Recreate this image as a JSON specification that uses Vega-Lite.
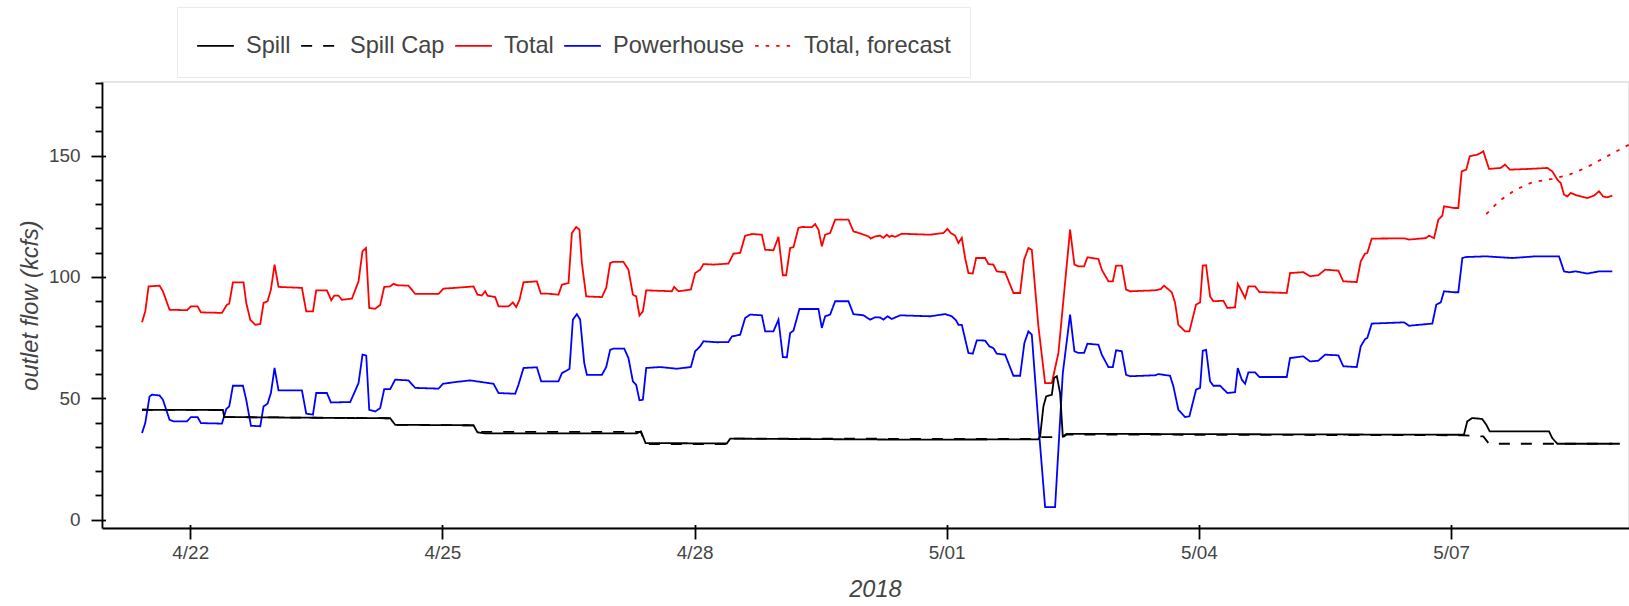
{
"$schema":"https://vega.github.io/schema/vega-lite/v6.json",
"width":1527,"height":446,
"autosize":{"type":"none"},
"padding":{"left":102,"top":82,"right":0,"bottom":78},
"background":"white",
"config":{
 "view":{"stroke":"#e5e5e5","strokeWidth":1.8},
 "font":"Liberation Sans",
 "axis":{"labelFont":"Liberation Sans","titleFont":"Liberation Sans","labelColor":"#444444","titleColor":"#444444","domainColor":"black","domainWidth":1.8,"tickColor":"black","tickWidth":1.8,"grid":false}
},
"datasets":{
"minor":[{"v":0,"time":"2018-04-22T00:00"}],
"flows":[
{"series":"Total","time":"2018-04-21T10:13","flow":81.3},
{"series":"Total","time":"2018-04-21T11:09","flow":85.8},
{"series":"Total","time":"2018-04-21T12:06","flow":96.1},
{"series":"Total","time":"2018-04-21T15:14","flow":96.4},
{"series":"Total","time":"2018-04-21T16:12","flow":94.1},
{"series":"Total","time":"2018-04-21T18:05","flow":86.5},
{"series":"Total","time":"2018-04-21T23:04","flow":86.3},
{"series":"Total","time":"2018-04-22T00:12","flow":87.9},
{"series":"Total","time":"2018-04-22T02:05","flow":87.9},
{"series":"Total","time":"2018-04-22T03:03","flow":85.4},
{"series":"Total","time":"2018-04-22T09:03","flow":85.2},
{"series":"Total","time":"2018-04-22T10:29","flow":88.6},
{"series":"Total","time":"2018-04-22T11:08","flow":89.0},
{"series":"Total","time":"2018-04-22T12:11","flow":97.8},
{"series":"Total","time":"2018-04-22T15:13","flow":97.8},
{"series":"Total","time":"2018-04-22T15:59","flow":89.3},
{"series":"Total","time":"2018-04-22T17:08","flow":82.4},
{"series":"Total","time":"2018-04-22T18:33","flow":80.3},
{"series":"Total","time":"2018-04-22T19:59","flow":80.6},
{"series":"Total","time":"2018-04-22T20:56","flow":89.3},
{"series":"Total","time":"2018-04-22T22:04","flow":90.0},
{"series":"Total","time":"2018-04-22T23:02","flow":94.8},
{"series":"Total","time":"2018-04-23T00:04","flow":105.1},
{"series":"Total","time":"2018-04-23T01:12","flow":95.9},
{"series":"Total","time":"2018-04-23T07:53","flow":95.5},
{"series":"Total","time":"2018-04-23T09:07","flow":85.8},
{"series":"Total","time":"2018-04-23T11:02","flow":85.8},
{"series":"Total","time":"2018-04-23T11:58","flow":94.5},
{"series":"Total","time":"2018-04-23T15:01","flow":94.5},
{"series":"Total","time":"2018-04-23T16:15","flow":90.4},
{"series":"Total","time":"2018-04-23T17:07","flow":92.3},
{"series":"Total","time":"2018-04-23T18:20","flow":92.3},
{"series":"Total","time":"2018-04-23T19:18","flow":90.6},
{"series":"Total","time":"2018-04-23T22:10","flow":91.1},
{"series":"Total","time":"2018-04-24T00:03","flow":98.2},
{"series":"Total","time":"2018-04-24T01:11","flow":110.6},
{"series":"Total","time":"2018-04-24T02:10","flow":111.9},
{"series":"Total","time":"2018-04-24T03:06","flow":87.2},
{"series":"Total","time":"2018-04-24T04:49","flow":86.9},
{"series":"Total","time":"2018-04-24T06:14","flow":88.5},
{"series":"Total","time":"2018-04-24T07:23","flow":95.9},
{"series":"Total","time":"2018-04-24T09:05","flow":96.1},
{"series":"Total","time":"2018-04-24T10:02","flow":97.2},
{"series":"Total","time":"2018-04-24T11:01","flow":96.6},
{"series":"Total","time":"2018-04-24T14:19","flow":96.4},
{"series":"Total","time":"2018-04-24T16:14","flow":93.0},
{"series":"Total","time":"2018-04-24T22:53","flow":93.0},
{"series":"Total","time":"2018-04-25T00:19","flow":95.2},
{"series":"Total","time":"2018-04-25T03:39","flow":95.5},
{"series":"Total","time":"2018-04-25T08:53","flow":96.1},
{"series":"Total","time":"2018-04-25T10:01","flow":92.7},
{"series":"Total","time":"2018-04-25T11:16","flow":92.4},
{"series":"Total","time":"2018-04-25T12:13","flow":94.1},
{"series":"Total","time":"2018-04-25T12:52","flow":92.3},
{"series":"Total","time":"2018-04-25T15:04","flow":91.7},
{"series":"Total","time":"2018-04-25T16:01","flow":87.9},
{"series":"Total","time":"2018-04-25T18:52","flow":87.9},
{"series":"Total","time":"2018-04-25T20:07","flow":89.5},
{"series":"Total","time":"2018-04-25T21:04","flow":87.6},
{"series":"Total","time":"2018-04-25T22:01","flow":90.6},
{"series":"Total","time":"2018-04-25T23:09","flow":97.8},
{"series":"Total","time":"2018-04-26T02:58","flow":98.2},
{"series":"Total","time":"2018-04-26T04:07","flow":93.1},
{"series":"Total","time":"2018-04-26T06:17","flow":93.1},
{"series":"Total","time":"2018-04-26T09:08","flow":92.7},
{"series":"Total","time":"2018-04-26T10:07","flow":96.8},
{"series":"Total","time":"2018-04-26T12:00","flow":97.5},
{"series":"Total","time":"2018-04-26T12:58","flow":118.1},
{"series":"Total","time":"2018-04-26T14:12","flow":120.6},
{"series":"Total","time":"2018-04-26T15:08","flow":119.5},
{"series":"Total","time":"2018-04-26T15:49","flow":105.8},
{"series":"Total","time":"2018-04-26T17:03","flow":92.0},
{"series":"Total","time":"2018-04-26T21:32","flow":91.7},
{"series":"Total","time":"2018-04-26T22:46","flow":95.5},
{"series":"Total","time":"2018-04-26T23:54","flow":105.8},
{"series":"Total","time":"2018-04-27T00:51","flow":106.2},
{"series":"Total","time":"2018-04-27T03:42","flow":106.2},
{"series":"Total","time":"2018-04-27T05:07","flow":103.0},
{"series":"Total","time":"2018-04-27T06:23","flow":92.7},
{"series":"Total","time":"2018-04-27T07:19","flow":92.0},
{"series":"Total","time":"2018-04-27T08:16","flow":84.1},
{"series":"Total","time":"2018-04-27T09:14","flow":85.8},
{"series":"Total","time":"2018-04-27T10:11","flow":94.5},
{"series":"Total","time":"2018-04-27T17:31","flow":94.1},
{"series":"Total","time":"2018-04-27T18:10","flow":95.9},
{"series":"Total","time":"2018-04-27T19:24","flow":94.1},
{"series":"Total","time":"2018-04-27T22:56","flow":94.8},
{"series":"Total","time":"2018-04-28T00:10","flow":101.6},
{"series":"Total","time":"2018-04-28T01:36","flow":103.0},
{"series":"Total","time":"2018-04-28T02:32","flow":105.3},
{"series":"Total","time":"2018-04-28T05:23","flow":105.1},
{"series":"Total","time":"2018-04-28T09:40","flow":105.5},
{"series":"Total","time":"2018-04-28T11:06","flow":109.6},
{"series":"Total","time":"2018-04-28T13:01","flow":109.9},
{"series":"Total","time":"2018-04-28T14:26","flow":117.0},
{"series":"Total","time":"2018-04-28T16:21","flow":117.7},
{"series":"Total","time":"2018-04-28T19:12","flow":117.4},
{"series":"Total","time":"2018-04-28T20:09","flow":111.2},
{"series":"Total","time":"2018-04-28T22:31","flow":111.0},
{"series":"Total","time":"2018-04-28T23:57","flow":116.5},
{"series":"Total","time":"2018-04-29T01:12","flow":100.7},
{"series":"Total","time":"2018-04-29T02:09","flow":100.7},
{"series":"Total","time":"2018-04-29T03:17","flow":111.9},
{"series":"Total","time":"2018-04-29T04:14","flow":112.3},
{"series":"Total","time":"2018-04-29T05:39","flow":120.2},
{"series":"Total","time":"2018-04-29T06:37","flow":120.6},
{"series":"Total","time":"2018-04-29T09:29","flow":120.5},
{"series":"Total","time":"2018-04-29T10:25","flow":121.8},
{"series":"Total","time":"2018-04-29T11:22","flow":119.5},
{"series":"Total","time":"2018-04-29T12:20","flow":112.6},
{"series":"Total","time":"2018-04-29T13:17","flow":117.4},
{"series":"Total","time":"2018-04-29T14:42","flow":118.1},
{"series":"Total","time":"2018-04-29T16:08","flow":123.6},
{"series":"Total","time":"2018-04-29T19:56","flow":123.6},
{"series":"Total","time":"2018-04-29T21:21","flow":118.8},
{"series":"Total","time":"2018-04-29T23:45","flow":117.7},
{"series":"Total","time":"2018-04-30T01:38","flow":116.7},
{"series":"Total","time":"2018-04-30T02:19","flow":115.8},
{"series":"Total","time":"2018-04-30T03:33","flow":116.7},
{"series":"Total","time":"2018-04-30T04:59","flow":117.0},
{"series":"Total","time":"2018-04-30T05:55","flow":116.1},
{"series":"Total","time":"2018-04-30T06:53","flow":117.4},
{"series":"Total","time":"2018-04-30T07:38","flow":116.5},
{"series":"Total","time":"2018-04-30T08:19","flow":117.0},
{"series":"Total","time":"2018-04-30T09:16","flow":116.5},
{"series":"Total","time":"2018-04-30T11:10","flow":117.8},
{"series":"Total","time":"2018-04-30T19:15","flow":117.4},
{"series":"Total","time":"2018-04-30T23:03","flow":118.1},
{"series":"Total","time":"2018-05-01T00:11","flow":119.8},
{"series":"Total","time":"2018-05-01T01:10","flow":118.1},
{"series":"Total","time":"2018-05-01T02:23","flow":117.0},
{"series":"Total","time":"2018-05-01T03:20","flow":114.0},
{"series":"Total","time":"2018-05-01T04:18","flow":116.1},
{"series":"Total","time":"2018-05-01T05:15","flow":107.8},
{"series":"Total","time":"2018-05-01T06:11","flow":101.6},
{"series":"Total","time":"2018-05-01T07:26","flow":101.4},
{"series":"Total","time":"2018-05-01T08:23","flow":107.8},
{"series":"Total","time":"2018-05-01T10:57","flow":107.8},
{"series":"Total","time":"2018-05-01T11:54","flow":105.3},
{"series":"Total","time":"2018-05-01T13:19","flow":105.1},
{"series":"Total","time":"2018-05-01T14:17","flow":102.3},
{"series":"Total","time":"2018-05-01T16:40","flow":101.9},
{"series":"Total","time":"2018-05-01T19:02","flow":93.4},
{"series":"Total","time":"2018-05-01T20:57","flow":93.4},
{"series":"Total","time":"2018-05-01T22:05","flow":107.1},
{"series":"Total","time":"2018-05-01T23:19","flow":111.9},
{"series":"Total","time":"2018-05-02T00:17","flow":111.2},
{"series":"Total","time":"2018-05-02T02:10","flow":79.7},
{"series":"Total","time":"2018-05-02T04:05","flow":56.3},
{"series":"Total","time":"2018-05-02T06:00","flow":56.3},
{"series":"Total","time":"2018-05-02T07:53","flow":68.7},
{"series":"Total","time":"2018-05-02T11:13","flow":119.5},
{"series":"Total","time":"2018-05-02T12:27","flow":105.1},
{"series":"Total","time":"2018-05-02T13:35","flow":104.4},
{"series":"Total","time":"2018-05-02T15:13","flow":104.4},
{"series":"Total","time":"2018-05-02T16:10","flow":108.1},
{"series":"Total","time":"2018-05-02T19:18","flow":107.4},
{"series":"Total","time":"2018-05-02T20:16","flow":103.0},
{"series":"Total","time":"2018-05-02T22:09","flow":98.2},
{"series":"Total","time":"2018-05-02T23:25","flow":98.2},
{"series":"Total","time":"2018-05-03T00:21","flow":104.7},
{"series":"Total","time":"2018-05-03T01:59","flow":104.7},
{"series":"Total","time":"2018-05-03T03:12","flow":94.8},
{"series":"Total","time":"2018-05-03T04:21","flow":94.1},
{"series":"Total","time":"2018-05-03T11:29","flow":94.5},
{"series":"Total","time":"2018-05-03T13:07","flow":95.0},
{"series":"Total","time":"2018-05-03T14:03","flow":96.4},
{"series":"Total","time":"2018-05-03T16:15","flow":93.7},
{"series":"Total","time":"2018-05-03T17:12","flow":89.3},
{"series":"Total","time":"2018-05-03T18:08","flow":80.3},
{"series":"Total","time":"2018-05-03T20:03","flow":77.6},
{"series":"Total","time":"2018-05-03T21:17","flow":77.6},
{"series":"Total","time":"2018-05-03T23:11","flow":88.6},
{"series":"Total","time":"2018-05-04T00:20","flow":89.5},
{"series":"Total","time":"2018-05-04T01:06","flow":104.7},
{"series":"Total","time":"2018-05-04T02:03","flow":104.8},
{"series":"Total","time":"2018-05-04T03:11","flow":92.0},
{"series":"Total","time":"2018-05-04T04:08","flow":90.0},
{"series":"Total","time":"2018-05-04T06:59","flow":90.2},
{"series":"Total","time":"2018-05-04T08:07","flow":87.2},
{"series":"Total","time":"2018-05-04T10:19","flow":87.5},
{"series":"Total","time":"2018-05-04T11:06","flow":97.2},
{"series":"Total","time":"2018-05-04T12:14","flow":94.1},
{"series":"Total","time":"2018-05-04T13:11","flow":91.3},
{"series":"Total","time":"2018-05-04T14:07","flow":96.1},
{"series":"Total","time":"2018-05-04T16:02","flow":96.1},
{"series":"Total","time":"2018-05-04T17:16","flow":93.8},
{"series":"Total","time":"2018-05-05T01:05","flow":93.4},
{"series":"Total","time":"2018-05-05T02:01","flow":101.6},
{"series":"Total","time":"2018-05-05T05:49","flow":102.0},
{"series":"Total","time":"2018-05-05T07:44","flow":100.3},
{"series":"Total","time":"2018-05-05T10:06","flow":100.7},
{"series":"Total","time":"2018-05-05T12:01","flow":103.0},
{"series":"Total","time":"2018-05-05T15:49","flow":102.6},
{"series":"Total","time":"2018-05-05T17:14","flow":98.2},
{"series":"Total","time":"2018-05-05T21:04","flow":97.9},
{"series":"Total","time":"2018-05-05T22:12","flow":106.4},
{"series":"Total","time":"2018-05-05T23:26","flow":109.6},
{"series":"Total","time":"2018-05-06T00:05","flow":109.9},
{"series":"Total","time":"2018-05-06T01:21","flow":115.8},
{"series":"Total","time":"2018-05-06T10:34","flow":115.9},
{"series":"Total","time":"2018-05-06T12:00","flow":115.4},
{"series":"Total","time":"2018-05-06T16:46","flow":116.0},
{"series":"Total","time":"2018-05-06T17:42","flow":117.0},
{"series":"Total","time":"2018-05-06T19:08","flow":116.0},
{"series":"Total","time":"2018-05-06T20:22","flow":123.6},
{"series":"Total","time":"2018-05-06T21:30","flow":125.3},
{"series":"Total","time":"2018-05-06T21:59","flow":129.1},
{"series":"Total","time":"2018-05-07T00:51","flow":128.4},
{"series":"Total","time":"2018-05-07T02:04","flow":128.4},
{"series":"Total","time":"2018-05-07T03:02","flow":143.5},
{"series":"Total","time":"2018-05-07T04:21","flow":144.2},
{"series":"Total","time":"2018-05-07T05:19","flow":149.7},
{"series":"Total","time":"2018-05-07T07:30","flow":150.4},
{"series":"Total","time":"2018-05-07T08:28","flow":151.1},
{"series":"Total","time":"2018-05-07T09:12","flow":151.8},
{"series":"Total","time":"2018-05-07T10:50","flow":144.5},
{"series":"Total","time":"2018-05-07T14:10","flow":144.9},
{"series":"Total","time":"2018-05-07T15:24","flow":146.3},
{"series":"Total","time":"2018-05-07T16:45","flow":144.2},
{"series":"Total","time":"2018-05-07T22:15","flow":144.5},
{"series":"Total","time":"2018-05-08T03:29","flow":144.9},
{"series":"Total","time":"2018-05-08T04:54","flow":143.5},
{"series":"Total","time":"2018-05-08T06:20","flow":140.1},
{"series":"Total","time":"2018-05-08T07:18","flow":138.7},
{"series":"Total","time":"2018-05-08T08:15","flow":133.9},
{"series":"Total","time":"2018-05-08T09:11","flow":133.2},
{"series":"Total","time":"2018-05-08T10:09","flow":134.6},
{"series":"Total","time":"2018-05-08T12:03","flow":133.5},
{"series":"Total","time":"2018-05-08T14:54","flow":132.5},
{"series":"Total","time":"2018-05-08T16:49","flow":133.5},
{"series":"Total","time":"2018-05-08T18:14","flow":135.3},
{"series":"Total","time":"2018-05-08T19:23","flow":133.2},
{"series":"Total","time":"2018-05-08T20:36","flow":132.8},
{"series":"Total","time":"2018-05-08T22:02","flow":133.5},
{"series":"Total, forecast","time":"2018-05-07T10:04","flow":125.9},
{"series":"Total, forecast","time":"2018-05-07T13:41","flow":131.2},
{"series":"Total, forecast","time":"2018-05-07T18:27","flow":136.0},
{"series":"Total, forecast","time":"2018-05-07T23:12","flow":139.0},
{"series":"Total, forecast","time":"2018-05-08T04:54","flow":140.4},
{"series":"Total, forecast","time":"2018-05-08T09:40","flow":142.1},
{"series":"Total, forecast","time":"2018-05-08T14:26","flow":144.9},
{"series":"Total, forecast","time":"2018-05-08T20:09","flow":149.4},
{"series":"Total, forecast","time":"2018-05-09T02:48","flow":154.5},
{"series":"Total, forecast","time":"2018-05-09T08:00","flow":158.0},
{"series":"Powerhouse","time":"2018-04-21T10:13","flow":35.7},
{"series":"Powerhouse","time":"2018-04-21T11:09","flow":39.8},
{"series":"Powerhouse","time":"2018-04-21T12:23","flow":50.8},
{"series":"Powerhouse","time":"2018-04-21T13:04","flow":51.5},
{"series":"Powerhouse","time":"2018-04-21T15:14","flow":51.2},
{"series":"Powerhouse","time":"2018-04-21T16:12","flow":49.4},
{"series":"Powerhouse","time":"2018-04-21T18:05","flow":41.2},
{"series":"Powerhouse","time":"2018-04-21T19:14","flow":40.5},
{"series":"Powerhouse","time":"2018-04-21T23:04","flow":40.5},
{"series":"Powerhouse","time":"2018-04-22T00:12","flow":42.3},
{"series":"Powerhouse","time":"2018-04-22T02:05","flow":42.3},
{"series":"Powerhouse","time":"2018-04-22T03:03","flow":39.8},
{"series":"Powerhouse","time":"2018-04-22T09:03","flow":39.6},
{"series":"Powerhouse","time":"2018-04-22T10:17","flow":45.6},
{"series":"Powerhouse","time":"2018-04-22T11:08","flow":46.7},
{"series":"Powerhouse","time":"2018-04-22T12:11","flow":55.2},
{"series":"Powerhouse","time":"2018-04-22T15:03","flow":55.2},
{"series":"Powerhouse","time":"2018-04-22T15:59","flow":49.4},
{"series":"Powerhouse","time":"2018-04-22T17:20","flow":38.7},
{"series":"Powerhouse","time":"2018-04-22T19:59","flow":38.5},
{"series":"Powerhouse","time":"2018-04-22T20:56","flow":46.7},
{"series":"Powerhouse","time":"2018-04-22T22:04","flow":47.8},
{"series":"Powerhouse","time":"2018-04-22T23:02","flow":52.2},
{"series":"Powerhouse","time":"2018-04-23T00:04","flow":62.5},
{"series":"Powerhouse","time":"2018-04-23T01:12","flow":53.3},
{"series":"Powerhouse","time":"2018-04-23T07:53","flow":53.3},
{"series":"Powerhouse","time":"2018-04-23T09:07","flow":43.7},
{"series":"Powerhouse","time":"2018-04-23T11:02","flow":43.3},
{"series":"Powerhouse","time":"2018-04-23T11:58","flow":52.2},
{"series":"Powerhouse","time":"2018-04-23T15:01","flow":52.2},
{"series":"Powerhouse","time":"2018-04-23T16:10","flow":48.3},
{"series":"Powerhouse","time":"2018-04-23T21:41","flow":48.5},
{"series":"Powerhouse","time":"2018-04-24T00:03","flow":56.3},
{"series":"Powerhouse","time":"2018-04-24T01:11","flow":68.0},
{"series":"Powerhouse","time":"2018-04-24T02:15","flow":67.6},
{"series":"Powerhouse","time":"2018-04-24T03:06","flow":45.3},
{"series":"Powerhouse","time":"2018-04-24T04:49","flow":44.6},
{"series":"Powerhouse","time":"2018-04-24T06:14","flow":46.0},
{"series":"Powerhouse","time":"2018-04-24T07:23","flow":53.8},
{"series":"Powerhouse","time":"2018-04-24T09:05","flow":53.8},
{"series":"Powerhouse","time":"2018-04-24T10:31","flow":57.7},
{"series":"Powerhouse","time":"2018-04-24T14:19","flow":57.4},
{"series":"Powerhouse","time":"2018-04-24T16:14","flow":54.3},
{"series":"Powerhouse","time":"2018-04-24T22:53","flow":54.0},
{"series":"Powerhouse","time":"2018-04-25T00:08","flow":56.0},
{"series":"Powerhouse","time":"2018-04-25T03:39","flow":56.7},
{"series":"Powerhouse","time":"2018-04-25T07:56","flow":57.4},
{"series":"Powerhouse","time":"2018-04-25T14:35","flow":56.0},
{"series":"Powerhouse","time":"2018-04-25T16:01","flow":52.2},
{"series":"Powerhouse","time":"2018-04-25T20:47","flow":51.9},
{"series":"Powerhouse","time":"2018-04-25T21:43","flow":55.6},
{"series":"Powerhouse","time":"2018-04-25T23:09","flow":62.5},
{"series":"Powerhouse","time":"2018-04-26T02:58","flow":62.8},
{"series":"Powerhouse","time":"2018-04-26T04:12","flow":57.0},
{"series":"Powerhouse","time":"2018-04-26T09:08","flow":57.0},
{"series":"Powerhouse","time":"2018-04-26T10:07","flow":60.4},
{"series":"Powerhouse","time":"2018-04-26T12:17","flow":62.1},
{"series":"Powerhouse","time":"2018-04-26T13:15","flow":82.4},
{"series":"Powerhouse","time":"2018-04-26T14:24","flow":84.7},
{"series":"Powerhouse","time":"2018-04-26T15:20","flow":82.4},
{"series":"Powerhouse","time":"2018-04-26T16:29","flow":64.6},
{"series":"Powerhouse","time":"2018-04-26T17:15","flow":59.7},
{"series":"Powerhouse","time":"2018-04-26T21:32","flow":59.7},
{"series":"Powerhouse","time":"2018-04-26T22:46","flow":62.9},
{"series":"Powerhouse","time":"2018-04-26T23:54","flow":70.0},
{"series":"Powerhouse","time":"2018-04-27T00:51","flow":70.5},
{"series":"Powerhouse","time":"2018-04-27T03:54","flow":70.5},
{"series":"Powerhouse","time":"2018-04-27T05:07","flow":66.6},
{"series":"Powerhouse","time":"2018-04-27T06:23","flow":57.0},
{"series":"Powerhouse","time":"2018-04-27T07:19","flow":55.6},
{"series":"Powerhouse","time":"2018-04-27T08:16","flow":49.2},
{"series":"Powerhouse","time":"2018-04-27T09:14","flow":49.4},
{"series":"Powerhouse","time":"2018-04-27T10:11","flow":62.5},
{"series":"Powerhouse","time":"2018-04-27T14:10","flow":62.9},
{"series":"Powerhouse","time":"2018-04-27T18:56","flow":62.2},
{"series":"Powerhouse","time":"2018-04-27T22:56","flow":62.9},
{"series":"Powerhouse","time":"2018-04-28T00:10","flow":69.4},
{"series":"Powerhouse","time":"2018-04-28T01:36","flow":71.4},
{"series":"Powerhouse","time":"2018-04-28T02:32","flow":73.5},
{"series":"Powerhouse","time":"2018-04-28T06:22","flow":73.1},
{"series":"Powerhouse","time":"2018-04-28T09:40","flow":73.2},
{"series":"Powerhouse","time":"2018-04-28T10:39","flow":75.5},
{"series":"Powerhouse","time":"2018-04-28T13:01","flow":76.2},
{"series":"Powerhouse","time":"2018-04-28T14:26","flow":83.1},
{"series":"Powerhouse","time":"2018-04-28T15:52","flow":84.5},
{"series":"Powerhouse","time":"2018-04-28T19:12","flow":84.2},
{"series":"Powerhouse","time":"2018-04-28T20:09","flow":77.6},
{"series":"Powerhouse","time":"2018-04-28T22:31","flow":77.6},
{"series":"Powerhouse","time":"2018-04-28T23:57","flow":82.4},
{"series":"Powerhouse","time":"2018-04-29T01:12","flow":67.0},
{"series":"Powerhouse","time":"2018-04-29T02:21","flow":66.9},
{"series":"Powerhouse","time":"2018-04-29T03:17","flow":76.9},
{"series":"Powerhouse","time":"2018-04-29T04:14","flow":77.9},
{"series":"Powerhouse","time":"2018-04-29T05:56","flow":86.8},
{"series":"Powerhouse","time":"2018-04-29T09:29","flow":86.8},
{"series":"Powerhouse","time":"2018-04-29T11:22","flow":86.8},
{"series":"Powerhouse","time":"2018-04-29T12:20","flow":79.0},
{"series":"Powerhouse","time":"2018-04-29T13:17","flow":83.8},
{"series":"Powerhouse","time":"2018-04-29T14:42","flow":84.5},
{"series":"Powerhouse","time":"2018-04-29T16:08","flow":90.0},
{"series":"Powerhouse","time":"2018-04-29T19:56","flow":90.0},
{"series":"Powerhouse","time":"2018-04-29T21:21","flow":84.7},
{"series":"Powerhouse","time":"2018-04-30T00:13","flow":84.2},
{"series":"Powerhouse","time":"2018-04-30T02:07","flow":82.4},
{"series":"Powerhouse","time":"2018-04-30T03:33","flow":83.4},
{"series":"Powerhouse","time":"2018-04-30T04:59","flow":83.3},
{"series":"Powerhouse","time":"2018-04-30T05:55","flow":82.4},
{"series":"Powerhouse","time":"2018-04-30T07:04","flow":83.8},
{"series":"Powerhouse","time":"2018-04-30T08:19","flow":82.7},
{"series":"Powerhouse","time":"2018-04-30T10:41","flow":84.2},
{"series":"Powerhouse","time":"2018-04-30T19:15","flow":83.8},
{"series":"Powerhouse","time":"2018-04-30T23:32","flow":84.7},
{"series":"Powerhouse","time":"2018-05-01T01:27","flow":83.8},
{"series":"Powerhouse","time":"2018-05-01T02:40","flow":82.1},
{"series":"Powerhouse","time":"2018-05-01T03:20","flow":80.3},
{"series":"Powerhouse","time":"2018-05-01T04:18","flow":80.3},
{"series":"Powerhouse","time":"2018-05-01T06:11","flow":68.7},
{"series":"Powerhouse","time":"2018-05-01T07:26","flow":68.4},
{"series":"Powerhouse","time":"2018-05-01T08:35","flow":73.9},
{"series":"Powerhouse","time":"2018-05-01T10:57","flow":73.8},
{"series":"Powerhouse","time":"2018-05-01T12:11","flow":71.4},
{"series":"Powerhouse","time":"2018-05-01T13:19","flow":70.7},
{"series":"Powerhouse","time":"2018-05-01T14:17","flow":68.4},
{"series":"Powerhouse","time":"2018-05-01T16:40","flow":68.0},
{"series":"Powerhouse","time":"2018-05-01T19:02","flow":59.3},
{"series":"Powerhouse","time":"2018-05-01T20:57","flow":59.3},
{"series":"Powerhouse","time":"2018-05-01T22:10","flow":72.8},
{"series":"Powerhouse","time":"2018-05-01T23:19","flow":77.6},
{"series":"Powerhouse","time":"2018-05-02T00:17","flow":76.2},
{"series":"Powerhouse","time":"2018-05-02T02:27","flow":34.3},
{"series":"Powerhouse","time":"2018-05-02T04:05","flow":5.2},
{"series":"Powerhouse","time":"2018-05-02T06:56","flow":5.2},
{"series":"Powerhouse","time":"2018-05-02T09:08","flow":60.4},
{"series":"Powerhouse","time":"2018-05-02T11:13","flow":84.5},
{"series":"Powerhouse","time":"2018-05-02T12:27","flow":69.4},
{"series":"Powerhouse","time":"2018-05-02T13:35","flow":68.7},
{"series":"Powerhouse","time":"2018-05-02T15:13","flow":68.7},
{"series":"Powerhouse","time":"2018-05-02T16:10","flow":72.5},
{"series":"Powerhouse","time":"2018-05-02T19:18","flow":72.1},
{"series":"Powerhouse","time":"2018-05-02T20:16","flow":68.0},
{"series":"Powerhouse","time":"2018-05-02T22:09","flow":62.9},
{"series":"Powerhouse","time":"2018-05-02T23:25","flow":62.9},
{"series":"Powerhouse","time":"2018-05-03T00:21","flow":69.8},
{"series":"Powerhouse","time":"2018-05-03T01:59","flow":69.4},
{"series":"Powerhouse","time":"2018-05-03T03:12","flow":59.7},
{"series":"Powerhouse","time":"2018-05-03T04:21","flow":59.1},
{"series":"Powerhouse","time":"2018-05-03T11:29","flow":59.5},
{"series":"Powerhouse","time":"2018-05-03T12:26","flow":60.0},
{"series":"Powerhouse","time":"2018-05-03T15:46","flow":59.3},
{"series":"Powerhouse","time":"2018-05-03T16:43","flow":54.9},
{"series":"Powerhouse","time":"2018-05-03T18:08","flow":45.3},
{"series":"Powerhouse","time":"2018-05-03T20:03","flow":42.3},
{"series":"Powerhouse","time":"2018-05-03T21:17","flow":42.6},
{"series":"Powerhouse","time":"2018-05-03T23:11","flow":53.6},
{"series":"Powerhouse","time":"2018-05-04T00:20","flow":54.3},
{"series":"Powerhouse","time":"2018-05-04T01:06","flow":69.6},
{"series":"Powerhouse","time":"2018-05-04T02:03","flow":70.0},
{"series":"Powerhouse","time":"2018-05-04T03:11","flow":57.0},
{"series":"Powerhouse","time":"2018-05-04T04:08","flow":55.2},
{"series":"Powerhouse","time":"2018-05-04T06:02","flow":55.2},
{"series":"Powerhouse","time":"2018-05-04T08:07","flow":52.2},
{"series":"Powerhouse","time":"2018-05-04T10:19","flow":52.5},
{"series":"Powerhouse","time":"2018-05-04T11:06","flow":62.5},
{"series":"Powerhouse","time":"2018-05-04T12:14","flow":57.7},
{"series":"Powerhouse","time":"2018-05-04T13:11","flow":56.0},
{"series":"Powerhouse","time":"2018-05-04T14:07","flow":60.7},
{"series":"Powerhouse","time":"2018-05-04T16:02","flow":60.7},
{"series":"Powerhouse","time":"2018-05-04T17:16","flow":58.8},
{"series":"Powerhouse","time":"2018-05-05T01:05","flow":58.8},
{"series":"Powerhouse","time":"2018-05-05T02:01","flow":66.6},
{"series":"Powerhouse","time":"2018-05-05T05:49","flow":67.3},
{"series":"Powerhouse","time":"2018-05-05T07:44","flow":65.2},
{"series":"Powerhouse","time":"2018-05-05T10:06","flow":65.5},
{"series":"Powerhouse","time":"2018-05-05T12:01","flow":68.0},
{"series":"Powerhouse","time":"2018-05-05T15:49","flow":67.7},
{"series":"Powerhouse","time":"2018-05-05T17:14","flow":63.2},
{"series":"Powerhouse","time":"2018-05-05T21:04","flow":62.9},
{"series":"Powerhouse","time":"2018-05-05T22:12","flow":71.4},
{"series":"Powerhouse","time":"2018-05-05T23:26","flow":74.4},
{"series":"Powerhouse","time":"2018-05-06T00:05","flow":74.9},
{"series":"Powerhouse","time":"2018-05-06T01:21","flow":80.8},
{"series":"Powerhouse","time":"2018-05-06T10:34","flow":81.3},
{"series":"Powerhouse","time":"2018-05-06T12:00","flow":79.9},
{"series":"Powerhouse","time":"2018-05-06T18:39","flow":80.8},
{"series":"Powerhouse","time":"2018-05-06T19:47","flow":88.6},
{"series":"Powerhouse","time":"2018-05-06T21:03","flow":89.5},
{"series":"Powerhouse","time":"2018-05-06T21:59","flow":94.1},
{"series":"Powerhouse","time":"2018-05-07T00:51","flow":93.7},
{"series":"Powerhouse","time":"2018-05-07T02:04","flow":93.7},
{"series":"Powerhouse","time":"2018-05-07T03:13","flow":107.8},
{"series":"Powerhouse","time":"2018-05-07T04:11","flow":108.2},
{"series":"Powerhouse","time":"2018-05-07T09:53","flow":108.5},
{"series":"Powerhouse","time":"2018-05-07T17:29","flow":107.8},
{"series":"Powerhouse","time":"2018-05-08T00:10","flow":108.5},
{"series":"Powerhouse","time":"2018-05-08T06:49","flow":108.5},
{"series":"Powerhouse","time":"2018-05-08T08:15","flow":102.3},
{"series":"Powerhouse","time":"2018-05-08T09:40","flow":101.9},
{"series":"Powerhouse","time":"2018-05-08T11:35","flow":102.3},
{"series":"Powerhouse","time":"2018-05-08T14:54","flow":101.4},
{"series":"Powerhouse","time":"2018-05-08T18:14","flow":102.3},
{"series":"Powerhouse","time":"2018-05-08T22:02","flow":102.3},
{"series":"Spill Cap","time":"2018-04-21T10:13","flow":45.3},
{"series":"Spill Cap","time":"2018-04-22T09:20","flow":45.2},
{"series":"Spill Cap","time":"2018-04-22T09:42","flow":42.3},
{"series":"Spill Cap","time":"2018-04-24T09:05","flow":41.8},
{"series":"Spill Cap","time":"2018-04-24T10:31","flow":39.1},
{"series":"Spill Cap","time":"2018-04-25T08:53","flow":38.9},
{"series":"Spill Cap","time":"2018-04-25T10:01","flow":36.2},
{"series":"Spill Cap","time":"2018-04-27T08:40","flow":36.2},
{"series":"Spill Cap","time":"2018-04-27T10:00","flow":31.2},
{"series":"Spill Cap","time":"2018-04-28T09:13","flow":31.2},
{"series":"Spill Cap","time":"2018-04-28T10:10","flow":33.4},
{"series":"Spill Cap","time":"2018-05-02T02:05","flow":33.3},
{"series":"Spill Cap","time":"2018-05-02T02:39","flow":34.0},
{"series":"Spill Cap","time":"2018-05-02T09:08","flow":34.0},
{"series":"Spill Cap","time":"2018-05-02T10:17","flow":35.1},
{"series":"Spill Cap","time":"2018-05-07T03:13","flow":34.8},
{"series":"Spill Cap","time":"2018-05-07T09:12","flow":34.3},
{"series":"Spill Cap","time":"2018-05-07T10:50","flow":31.3},
{"series":"Spill Cap","time":"2018-05-09T08:00","flow":31.3},
{"series":"Spill","time":"2018-04-21T10:13","flow":45.3},
{"series":"Spill","time":"2018-04-22T09:20","flow":45.2},
{"series":"Spill","time":"2018-04-22T09:42","flow":42.3},
{"series":"Spill","time":"2018-04-23T12:00","flow":42.0},
{"series":"Spill","time":"2018-04-24T09:05","flow":41.8},
{"series":"Spill","time":"2018-04-24T10:31","flow":39.1},
{"series":"Spill","time":"2018-04-25T08:53","flow":38.9},
{"series":"Spill","time":"2018-04-25T10:01","flow":36.0},
{"series":"Spill","time":"2018-04-25T12:00","flow":35.6},
{"series":"Spill","time":"2018-04-27T07:30","flow":35.6},
{"series":"Spill","time":"2018-04-27T08:40","flow":36.4},
{"series":"Spill","time":"2018-04-27T10:00","flow":31.6},
{"series":"Spill","time":"2018-04-28T09:13","flow":31.4},
{"series":"Spill","time":"2018-04-28T10:10","flow":33.4},
{"series":"Spill","time":"2018-04-30T12:00","flow":33.0},
{"series":"Spill","time":"2018-05-02T02:05","flow":33.1},
{"series":"Spill","time":"2018-05-02T02:39","flow":34.3},
{"series":"Spill","time":"2018-05-02T03:36","flow":46.7},
{"series":"Spill","time":"2018-05-02T04:23","flow":50.8},
{"series":"Spill","time":"2018-05-02T06:00","flow":51.5},
{"series":"Spill","time":"2018-05-02T06:39","flow":58.4},
{"series":"Spill","time":"2018-05-02T07:26","flow":59.1},
{"series":"Spill","time":"2018-05-02T08:22","flow":52.2},
{"series":"Spill","time":"2018-05-02T09:08","flow":34.3},
{"series":"Spill","time":"2018-05-02T10:17","flow":35.4},
{"series":"Spill","time":"2018-05-07T03:40","flow":35.0},
{"series":"Spill","time":"2018-05-07T04:37","flow":40.5},
{"series":"Spill","time":"2018-05-07T06:02","flow":41.9},
{"series":"Spill","time":"2018-05-07T08:53","flow":41.5},
{"series":"Spill","time":"2018-05-07T10:04","flow":39.1},
{"series":"Spill","time":"2018-05-07T11:02","flow":36.4},
{"series":"Spill","time":"2018-05-08T03:58","flow":36.4},
{"series":"Spill","time":"2018-05-08T04:54","flow":33.6},
{"series":"Spill","time":"2018-05-08T06:20","flow":31.3},
{"series":"Spill","time":"2018-05-08T22:02","flow":31.3}
]},
"layer":[
{"data":{"name":"flows"},
 "mark":{"type":"line","strokeWidth":1.8,"clip":true},
 "encoding":{
  "x":{"field":"time","type":"temporal",
   "scale":{"domain":[{"year":2018,"month":4,"date":20,"hours":22,"minutes":48},{"year":2018,"month":5,"date":9,"hours":2,"minutes":48}]},
   "axis":{"orient":"bottom","title":"2018","titleFontStyle":"italic","titleFontWeight":"normal","titleFontSize":23.6,"titleX":773,"titleAlign":"center","titlePadding":16,
    "values":[{"year":2018,"month":4,"date":22},{"year":2018,"month":4,"date":25},{"year":2018,"month":4,"date":28},{"year":2018,"month":5,"date":1},{"year":2018,"month":5,"date":4},{"year":2018,"month":5,"date":7}],
    "format":"%-m/%d","labelFontSize":18.9,"tickSize":11,"labelPadding":4,"labelFlush":false,"labelOverlap":false}},
  "y":{"field":"flow","type":"quantitative",
   "scale":{"domain":[-3.4,180.3],"nice":false,"zero":false},
   "axis":{"orient":"left","title":"outlet flow (kcfs)","titleFontStyle":"italic","titleFontWeight":"normal","titleFontSize":23.6,"titlePadding":6,
    "values":[0,50,100,150],"labelFontSize":18.9,"tickSize":11,"labelPadding":11}},
  "color":{"field":"series","type":"nominal",
   "scale":{"domain":["Spill","Spill Cap","Total","Powerhouse","Total, forecast"],"range":["#000000","#000000","#ff0000","#0000ff","#ff0000"]},
   "legend":{"title":null,"orient":"none","legendX":75,"legendY":-75,"direction":"horizontal","symbolType":"stroke","symbolSize":1347,"symbolStrokeWidth":1.8,"labelFont":"Liberation Sans","labelFontSize":23.6,"labelColor":"#444444","labelOffset":11,"labelLimit":400,"columnPadding":6,"padding":19,"strokeColor":"#ebebeb","fillColor":"white"}},
  "strokeDash":{"field":"series","type":"nominal",
   "scale":{"domain":["Spill","Spill Cap","Total","Powerhouse","Total, forecast"],"range":[[1,0],[11,11],[1,0],[1,0],[3.5,7]]},
   "legend":{"title":null,"orient":"none","legendX":75,"legendY":-75,"direction":"horizontal","symbolType":"stroke","symbolSize":1347,"symbolStrokeWidth":1.8,"labelFont":"Liberation Sans","labelFontSize":23.6,"labelColor":"#444444","labelOffset":11,"labelLimit":400,"columnPadding":6,"padding":19,"strokeColor":"#ebebeb","fillColor":"white"}}
 }},
{"data":{"name":"minor"},
 "mark":{"type":"rule","opacity":0},
 "encoding":{"y":{"field":"v","type":"quantitative",
   "axis":{"orient":"left","values":[10,20,30,40,60,70,80,90,110,120,130,140,160,170,180],"labels":false,"domain":false,"tickSize":7,"title":null,"grid":false}}}},
{"data":{"name":"minor"},
 "mark":{"type":"rule","opacity":0},
 "encoding":{"y":{"field":"v","type":"quantitative",
   "axis":{"orient":"left","values":[0,50,100,150],"labels":false,"domain":false,"tickSize":-3.5,"title":null,"grid":false}}}},
{"data":{"name":"minor"},
 "mark":{"type":"rule","opacity":0},
 "encoding":{"x":{"field":"time","type":"temporal",
   "axis":{"orient":"bottom","values":[{"year":2018,"month":4,"date":22},{"year":2018,"month":4,"date":25},{"year":2018,"month":4,"date":28},{"year":2018,"month":5,"date":1},{"year":2018,"month":5,"date":4},{"year":2018,"month":5,"date":7}],"labels":false,"domain":false,"tickSize":-3.5,"title":null,"grid":false}}}}
],
"resolve":{"axis":{"y":"independent","x":"independent"}}
}
